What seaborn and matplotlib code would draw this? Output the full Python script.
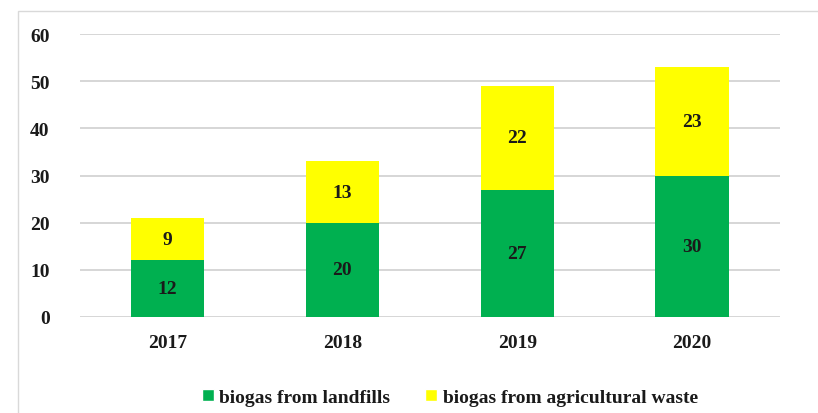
import matplotlib
matplotlib.use("Agg")
import matplotlib.pyplot as plt
import seaborn as sns
import pandas as pd
from matplotlib.patches import Patch, Rectangle

years = ["2017", "2018", "2019", "2020"]
landfills = [12, 20, 27, 30]
agricultural = [9, 13, 22, 23]
series_names = ["biogas from landfills", "biogas from agricultural waste"]
yticks = [0, 10, 20, 30, 40, 50, 60]

green = "#00B050"
yellow = "#FFFF00"

sns.set_theme(style="white")
plt.rcParams["font.family"] = ["Liberation Serif", "DejaVu Serif"]

df = pd.DataFrame({"year": years, "landfills": landfills, "agri": agricultural})

fig = plt.figure(figsize=(8.18, 4.14), dpi=100)
ax = fig.add_axes([0.098, 0.232, 0.855, 0.683])

sns.barplot(data=df, x="year", y="landfills", color=green, width=0.42,
            saturation=1, ax=ax, edgecolor="none")
sns.barplot(data=df, x="year", y="agri", color=yellow, width=0.42,
            saturation=1, ax=ax, edgecolor="none", bottom=df["landfills"])

for i, (a, b) in enumerate(zip(landfills, agricultural)):
    ax.text(i, a / 2, str(a), ha="center", va="center", fontsize=14,
            fontweight="bold", color="#1a1a1a")
    ax.text(i, a + b / 2, str(b), ha="center", va="center", fontsize=14,
            fontweight="bold", color="#1a1a1a")

ax.set_ylim(0, 60)
ax.set_yticks(yticks)
ax.set_yticklabels([str(t) for t in yticks], fontsize=14, fontweight="bold", color="#1a1a1a")
ax.set_xticks(range(len(years)))
ax.set_xticklabels(years, fontsize=14, fontweight="bold", color="#1a1a1a")
ax.set_xlabel("")
ax.set_ylabel("")
ax.yaxis.grid(True, color="#d0d0d0", linewidth=1.2)
ax.set_axisbelow(True)
for s in ax.spines.values():
    s.set_visible(False)
ax.tick_params(axis="y", pad=22, length=0)
ax.tick_params(axis="x", pad=12, length=0)

handles = [Patch(facecolor=green, label=series_names[0]),
           Patch(facecolor=yellow, label=series_names[1])]
fig.legend(handles=handles, loc="center", bbox_to_anchor=(0.55, 0.038), ncol=2,
           frameon=False, prop={"size": 14, "weight": "bold"},
           handlelength=0.6, handleheight=0.6, handletextpad=0.3, columnspacing=1.8,
           labelcolor="#1a1a1a")

fig.patches.append(Rectangle((0.022, -0.05), 1.1, 1.02, transform=fig.transFigure,
                             fill=False, edgecolor="#d9d9d9", linewidth=1))

fig.savefig("out.png", dpi=100)
